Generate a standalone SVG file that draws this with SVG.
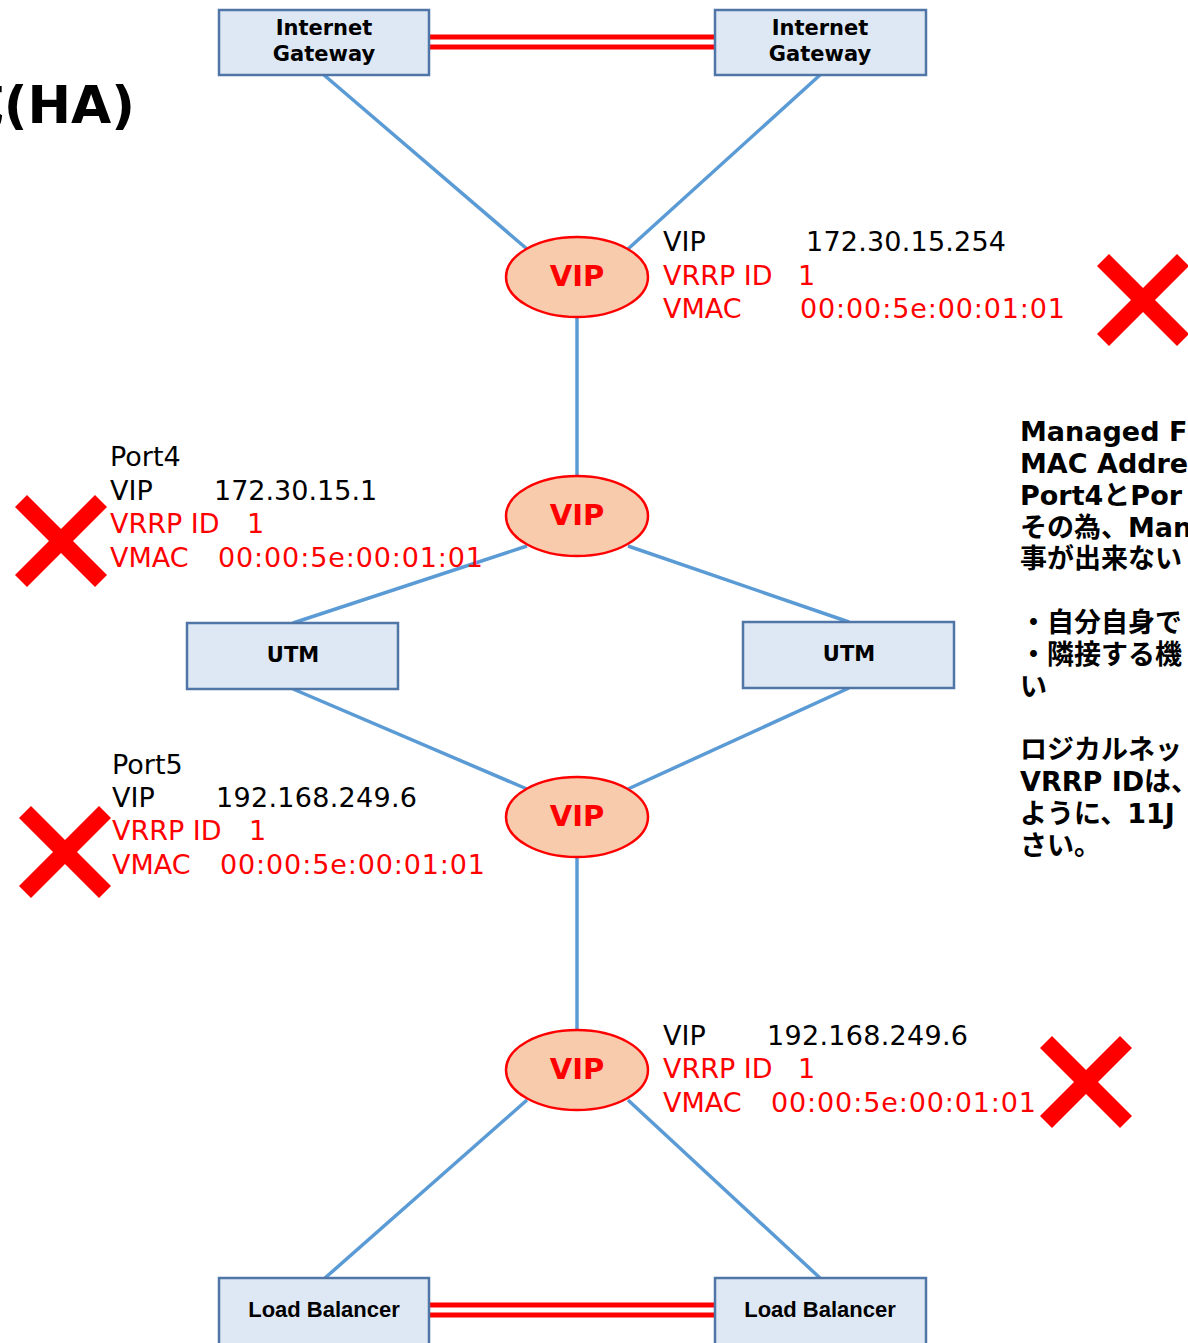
<svg xmlns="http://www.w3.org/2000/svg" width="1188" height="1343" viewBox="0 0 1188 1343">
  <style>
    .box { fill: #dee8f4; stroke: #4f76a6; stroke-width: 2.5; }
    .vip { fill: #f8cbad; stroke: #ff0000; stroke-width: 2.5; }
    .link { stroke: #5b9bd5; stroke-width: 3.5; fill: none; }
    .ha { stroke: #ff0000; stroke-width: 5; }
    .cross { stroke: #ff0000; stroke-width: 17; stroke-linecap: butt; }
    .lbl { font-family: "DejaVu Sans", "Noto Sans CJK JP", sans-serif; font-weight: bold; font-size: 21px; fill: #000; text-anchor: middle; }
    .lb { font-family: "Liberation Sans", Arial, sans-serif; font-weight: bold; font-size: 22px; fill: #000; text-anchor: middle; }
    .viptxt { font-family: "DejaVu Sans", sans-serif; font-weight: bold; font-size: 29px; fill: #ff0000; text-anchor: middle; }
    .info { font-family: "DejaVu Sans", sans-serif; font-size: 27px; fill: #000; }
    .red { fill: #ff0000; }
    .note { font-family: "DejaVu Sans", "Noto Sans CJK JP", sans-serif; font-weight: bold; font-size: 27px; fill: #000; }
    .title { font-family: "DejaVu Sans", "Noto Sans CJK JP", sans-serif; font-weight: bold; font-size: 52px; fill: #000; text-anchor: end; }
  </style>

  <!-- heading -->
  <text class="title" x="135" y="123">構成(HA)</text>

  <!-- connectors -->
  <g id="connectors">
    <line class="ha" x1="429" y1="37" x2="715" y2="37"/>
    <line class="ha" x1="429" y1="47" x2="715" y2="47"/>
    <line class="link" x1="324" y1="75" x2="527" y2="249"/>
    <line class="link" x1="820" y1="75" x2="628" y2="249"/>
    <line class="link" x1="577" y1="316" x2="577" y2="476"/>
    <line class="link" x1="527" y1="546" x2="293" y2="623"/>
    <line class="link" x1="628" y1="546" x2="849" y2="622"/>
    <line class="link" x1="293" y1="689" x2="527" y2="789"/>
    <line class="link" x1="849" y1="688" x2="628" y2="789"/>
    <line class="link" x1="577" y1="858" x2="577" y2="1030"/>
    <line class="link" x1="527" y1="1100" x2="325" y2="1278"/>
    <line class="link" x1="628" y1="1100" x2="820" y2="1278"/>
    <line class="ha" x1="429" y1="1305" x2="715" y2="1305"/>
    <line class="ha" x1="429" y1="1315" x2="715" y2="1315"/>
  </g>

  <!-- gateways -->
  <g id="igw-left">
    <rect class="box" x="219" y="10" width="210" height="65"/>
    <text class="lbl" x="324" y="35">Internet</text>
    <text class="lbl" x="324" y="61">Gateway</text>
  </g>
  <g id="igw-right">
    <rect class="box" x="715" y="10" width="211" height="65"/>
    <text class="lbl" x="820" y="35">Internet</text>
    <text class="lbl" x="820" y="61">Gateway</text>
  </g>

  <!-- virtual IPs -->
  <g id="vip-1">
    <ellipse class="vip" cx="577" cy="277" rx="71" ry="40"/>
    <text class="viptxt" x="577" y="286">VIP</text>
  </g>
  <g id="vip-2">
    <ellipse class="vip" cx="577" cy="516" rx="71" ry="40"/>
    <text class="viptxt" x="577" y="525">VIP</text>
  </g>
  <g id="vip-3">
    <ellipse class="vip" cx="577" cy="817" rx="71" ry="40"/>
    <text class="viptxt" x="577" y="826">VIP</text>
  </g>
  <g id="vip-4">
    <ellipse class="vip" cx="577" cy="1070" rx="71" ry="40"/>
    <text class="viptxt" x="577" y="1079">VIP</text>
  </g>

  <!-- UTMs -->
  <g id="utm-left">
    <rect class="box" x="187" y="623" width="211" height="66"/>
    <text class="lbl" x="293" y="662">UTM</text>
  </g>
  <g id="utm-right">
    <rect class="box" x="743" y="622" width="211" height="66"/>
    <text class="lbl" x="849" y="661">UTM</text>
  </g>

  <!-- load balancers -->
  <g id="lb-left">
    <rect class="box" x="219" y="1278" width="210" height="72"/>
    <text class="lb" x="324" y="1317">Load Balancer</text>
  </g>
  <g id="lb-right">
    <rect class="box" x="715" y="1278" width="211" height="72"/>
    <text class="lb" x="820" y="1317">Load Balancer</text>
  </g>

  <!-- VRRP settings -->
  <g id="info-top" class="info">
    <text x="663" y="251">VIP</text>
    <text x="806" y="251" textLength="200">172.30.15.254</text>
    <text class="red" x="663" y="285">VRRP ID</text>
    <text class="red" x="798" y="285">1</text>
    <text class="red" x="663" y="318">VMAC</text>
    <text class="red" x="800" y="318" textLength="265">00:00:5e:00:01:01</text>
  </g>
  <g id="info-port4" class="info">
    <text x="110" y="466">Port4</text>
    <text x="110" y="500">VIP</text>
    <text x="214" y="500">172.30.15.1</text>
    <text class="red" x="110" y="533">VRRP ID</text>
    <text class="red" x="247" y="533">1</text>
    <text class="red" x="110" y="567">VMAC</text>
    <text class="red" x="218" y="567" textLength="265">00:00:5e:00:01:01</text>
  </g>
  <g id="info-port5" class="info">
    <text x="112" y="774">Port5</text>
    <text x="112" y="807">VIP</text>
    <text x="216" y="807" textLength="201">192.168.249.6</text>
    <text class="red" x="112" y="840">VRRP ID</text>
    <text class="red" x="249" y="840">1</text>
    <text class="red" x="112" y="874">VMAC</text>
    <text class="red" x="220" y="874" textLength="265">00:00:5e:00:01:01</text>
  </g>
  <g id="info-bottom" class="info">
    <text x="663" y="1045">VIP</text>
    <text x="767" y="1045" textLength="201">192.168.249.6</text>
    <text class="red" x="663" y="1078">VRRP ID</text>
    <text class="red" x="798" y="1078">1</text>
    <text class="red" x="663" y="1112">VMAC</text>
    <text class="red" x="771" y="1112" textLength="265">00:00:5e:00:01:01</text>
  </g>

  <!-- rejection marks -->
  <g id="cross-1">
    <line class="cross" x1="1103" y1="260" x2="1183" y2="340"/>
    <line class="cross" x1="1183" y1="260" x2="1103" y2="340"/>
  </g>
  <g id="cross-2">
    <line class="cross" x1="21" y1="501" x2="101" y2="581"/>
    <line class="cross" x1="101" y1="501" x2="21" y2="581"/>
  </g>
  <g id="cross-3">
    <line class="cross" x1="25" y1="812" x2="105" y2="892"/>
    <line class="cross" x1="105" y1="812" x2="25" y2="892"/>
  </g>
  <g id="cross-4">
    <line class="cross" x1="1046" y1="1042" x2="1126" y2="1122"/>
    <line class="cross" x1="1126" y1="1042" x2="1046" y2="1122"/>
  </g>

  <!-- notes, running off the right edge -->
  <g id="notes" class="note">
    <text x="1020" y="441">Managed F</text>
    <text x="1020" y="473">MAC Addre</text>
    <text x="1020" y="505">Port4とPor</text>
    <text x="1020" y="537">その為、Man</text>
    <text x="1020" y="568">事が出来ない</text>
    <text x="1020" y="632">・自分自身で</text>
    <text x="1020" y="664">・隣接する機</text>
    <text x="1020" y="696">い</text>
    <text x="1020" y="759">ロジカルネッ</text>
    <text x="1020" y="791">VRRP IDは、</text>
    <text x="1020" y="823">ように、11J</text>
    <text x="1020" y="855">さい。</text>
  </g>
</svg>
